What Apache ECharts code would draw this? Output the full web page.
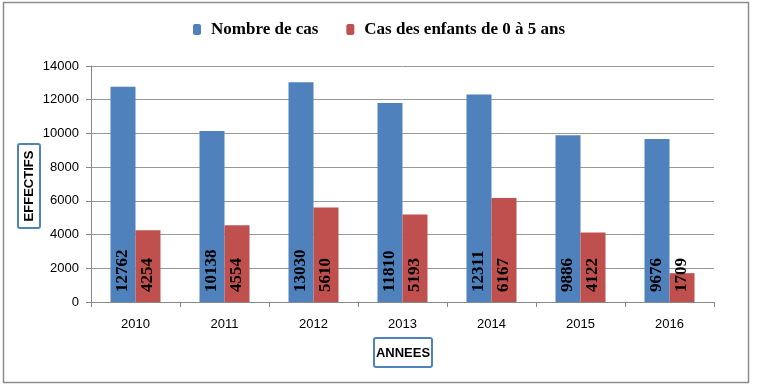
<!DOCTYPE html>
<html><head><meta charset="utf-8">
<script src="https://cdn.jsdelivr.net/npm/echarts@6/dist/echarts.min.js"></script>
<style>html,body{margin:0;padding:0;background:#fff}#c{width:765px;height:387px}</style>
</head><body><div id="c"></div>
<script>
const categories = ['2010','2011','2012','2013','2014','2015','2016'];
const nombreCas = [12762,10138,13030,11810,12311,9886,9676];
const casEnfants = [4254,4554,5610,5193,6167,4122,1709];
const yTicks = [0,2000,4000,6000,8000,10000,12000,14000];
const seriesNames = ['Nombre de cas','Cas des enfants de 0 à 5 ans'];

const chart = echarts.init(document.getElementById('c'));
const lbl = {
  show: true, position: 'insideBottom', rotate: 90, align: 'left', verticalAlign: 'middle',
  distance: 10, fontFamily: 'Liberation Serif', fontWeight: 'bold', fontSize: 17, color: '#000'
};
chart.setOption({
  animation: false,
  graphic: [
    {type:'rect', shape:{x:3.5,y:2.5,width:745,height:380}, style:{fill:'none', stroke:'#8c8c8c', lineWidth:1.5}},
    {type:'rect', shape:{x:18,y:144,width:22,height:84,r:2}, style:{fill:'#fff', stroke:'#4f81bd', lineWidth:2}},
    {type:'text', x:29, y:186, rotation:Math.PI/2, style:{text:'EFFECTIFS', fill:'#000', font:'bold 13px "Liberation Sans"', align:'center', verticalAlign:'middle'}},
    {type:'rect', shape:{x:374,y:338,width:58,height:29,r:2}, style:{fill:'#fff', stroke:'#4f81bd', lineWidth:2}},
    {type:'text', x:403, y:353, style:{text:'ANNEES', fill:'#000', font:'bold 13px "Liberation Sans"', align:'center', verticalAlign:'middle'}}
  ],
  legend: {
    top: 16, left: 188, itemGap: 28, itemWidth: 8, itemHeight: 11,
    textStyle: {fontFamily:'Liberation Serif', fontWeight:'bold', fontSize:17, color:'#000', padding:[0,0,0,5]},
    data: seriesNames
  },
  grid: {left: 91, right: 51, top: 66, bottom: 85},
  xAxis: {
    type: 'category', data: categories,
    axisLine: {lineStyle:{color:'#888'}},
    axisTick: {show:true, alignWithLabel:false, length:5, lineStyle:{color:'#888'}},
    axisLabel: {color:'#000', fontFamily:'Liberation Sans', fontSize:13, margin:16}
  },
  yAxis: {
    type: 'value', min: yTicks[0], max: yTicks[yTicks.length-1], interval: 2000,
    axisLine: {show:true, lineStyle:{color:'#888'}},
    axisTick: {show:true, length:5, lineStyle:{color:'#888'}},
    axisLabel: {color:'#000', fontFamily:'Liberation Sans', fontSize:13, margin:12, formatter: v => String(v)},
    splitLine: {lineStyle:{color:'#999'}}
  },
  series: [
    {name: seriesNames[0], type:'bar', data: nombreCas, barWidth: 25, barGap: '0%', itemStyle:{color:'#4f81bd'}, label: lbl},
    {name: seriesNames[1], type:'bar', data: casEnfants, barWidth: 25, itemStyle:{color:'#c0504d'}, label: lbl}
  ]
});
</script></body></html>
